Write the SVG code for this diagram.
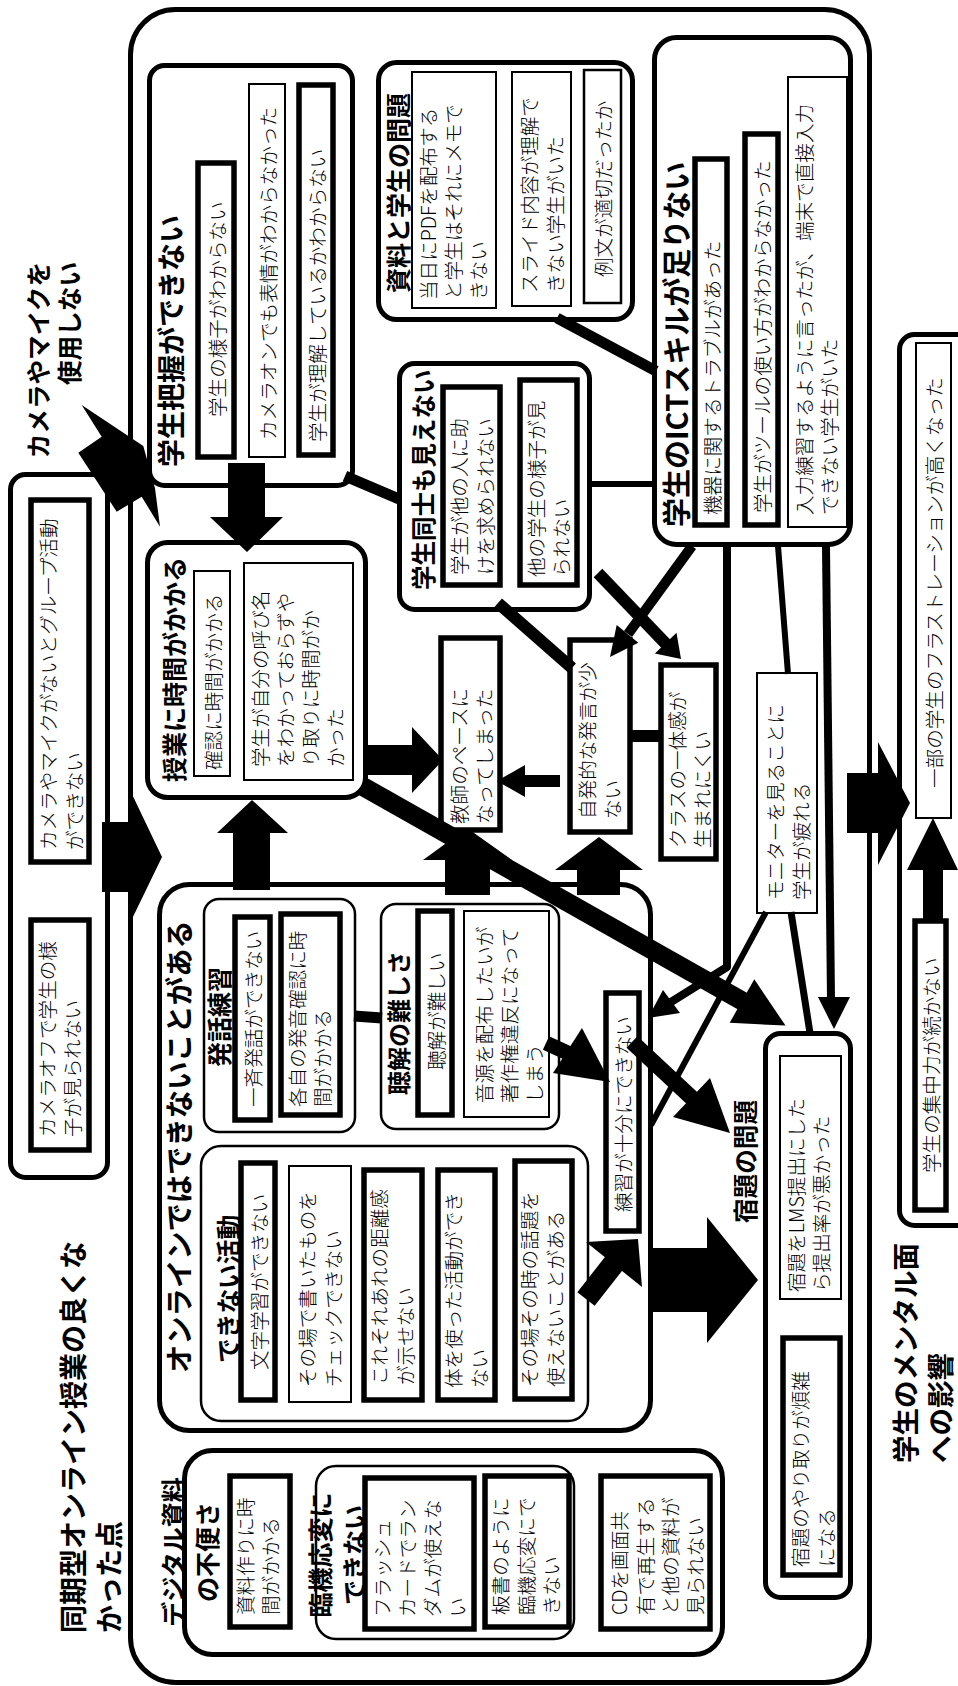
<svg xmlns="http://www.w3.org/2000/svg" width="958" height="1686" viewBox="0 0 958 1686">
<style>
text{font-family:"Noto Sans CJK JP","Noto Sans",sans-serif;dominant-baseline:central;fill:#000}
.n{font-size:19.6px;font-weight:300}
.h{font-weight:700}
.g5{fill:#fff;stroke:#000;stroke-width:5}
.g2{fill:#fff;stroke:#000;stroke-width:2.5}
.b5{fill:#fff;stroke:#000;stroke-width:5.5}
.b2{fill:#fff;stroke:#000;stroke-width:2}
.ln{fill:none;stroke:#000;stroke-linecap:butt}
.ar{fill:#000;stroke:none}
</style>
<rect x="0" y="0" width="958" height="1686" fill="#fff"/>

<g id="title"><text class="h" font-size="28" transform="translate(72,1633) rotate(-90)">同期型オンライン授業の良くな<tspan x="0" dy="36">かった点</tspan></text></g>
<g id="label-camera"><text class="h" font-size="24.6" text-anchor="end" transform="translate(37,262) rotate(-90)">カメラやマイクを<tspan x="0" dy="31">使用しない</tspan></text></g>
<g id="label-mental"><text class="h" font-size="27.5" transform="translate(904,1463) rotate(-90)">学生のメンタル面<tspan x="0" dy="35">への影響</tspan></text></g>

<g id="outer"><rect class="g5" x="130.5" y="9.5" width="739" height="1673" rx="45"/></g>

<g id="mental">
<rect class="g5" x="899.5" y="334.5" width="120" height="891" rx="15"/>
<g id="frustration"><rect class="b2" x="916" y="343" width="35" height="475"/><text class="n" transform="translate(933.5,788) rotate(-90)">一部の学生のフラストレーションが高くなった</text></g>
<g id="concentration"><rect class="b5" x="915" y="921" width="31" height="289"/><text class="n" transform="translate(930.5,1173) rotate(-90)">学生の集中力が続かない</text></g>
</g>

<g id="camera-group">
<rect class="g5" x="10.5" y="474.5" width="97" height="703" rx="15"/>
<g id="no-mic"><rect class="b5" x="31" y="500" width="58" height="362"/><text class="n" transform="translate(47.5,850) rotate(-90)">カメラやマイクがないとグループ活動<tspan x="0" dy="25">ができない</tspan></text></g>
<g id="camera-off"><rect class="b5" x="31" y="920" width="58" height="230"/><text class="n" transform="translate(46,1137) rotate(-90)">カメラオフで学生の様<tspan x="0" dy="25">子が見られない</tspan></text></g>
</g>

<g id="grasp">
<rect class="g5" x="149.5" y="65.5" width="203" height="420" rx="15"/>
<text class="h" font-size="28" transform="translate(170,467) rotate(-90)">学生把握ができない</text>
<g id="grasp-1"><rect class="b5" x="198" y="163" width="36" height="294"/><text class="n" transform="translate(216,417) rotate(-90)">学生の様子がわからない</text></g>
<g id="grasp-2"><rect class="b2" x="249" y="84" width="36" height="373"/><text class="n" transform="translate(267,440) rotate(-90)">カメラオンでも表情がわからなかった</text></g>
<g id="grasp-3"><rect class="b5" x="299" y="85" width="34" height="370"/><text class="n" transform="translate(316,442) rotate(-90)">学生が理解しているかわからない</text></g>
</g>

<g id="material">
<rect class="g5" x="378.5" y="62.5" width="254" height="257" rx="18"/>
<text class="h" font-size="25" transform="translate(397,293) rotate(-90)">資料と学生の問題</text>
<g id="material-1"><rect class="b2" x="412" y="72" width="84" height="236"/><text class="n" transform="translate(427,300) rotate(-90)">当日にPDFを配布する<tspan x="0" dy="25">と学生はそれにメモで</tspan><tspan x="0" dy="25">きない</tspan></text></g>
<g id="material-2"><rect class="b2" x="512" y="72" width="59" height="234"/><text class="n" transform="translate(528.5,293) rotate(-90)">スライド内容が理解で<tspan x="0" dy="25">きない学生がいた</tspan></text></g>
<g id="material-3"><rect class="g2" x="584" y="70" width="37" height="233"/><text class="n" transform="translate(602.5,277) rotate(-90)">例文が適切だったか</text></g>
</g>

<g id="ict">
<rect class="g5" x="654.5" y="37.5" width="196" height="507" rx="22"/>
<text class="h" font-size="29" transform="translate(675,527) rotate(-90)">学生のICTスキルが足りない</text>
<g id="ict-1"><rect class="b5" x="695" y="159" width="32" height="366"/><text class="n" transform="translate(711,515) rotate(-90)">機器に関するトラブルがあった</text></g>
<g id="ict-2"><rect class="b5" x="745" y="134" width="33" height="391"/><text class="n" transform="translate(761.5,513) rotate(-90)">学生がツールの使い方がわからなかった</text></g>
<g id="ict-3"><rect class="b2" x="788" y="77" width="59" height="450"/><text class="n" transform="translate(803,515) rotate(-90)">入力練習するように言ったが、端末で直接入力<tspan x="0" dy="25">できない学生がいた</tspan></text></g>
</g>

<g id="peers">
<rect class="g5" x="399.5" y="363.5" width="190" height="246" rx="15"/>
<text class="h" font-size="24.5" transform="translate(422,590) rotate(-90)">学生同士も見えない</text>
<g id="peers-1"><rect class="b5" x="443" y="387" width="57" height="198"/><text class="n" transform="translate(458.5,575) rotate(-90)">学生が他の人に助<tspan x="0" dy="25">けを求められない</tspan></text></g>
<g id="peers-2"><rect class="b5" x="520" y="380" width="57" height="205"/><text class="n" transform="translate(535,577) rotate(-90)">他の学生の様子が見<tspan x="0" dy="25">られない</tspan></text></g>
</g>

<g id="time">
<rect class="g5" x="147.5" y="542.5" width="218" height="255" rx="20"/>
<text class="h" font-size="25" transform="translate(173,782) rotate(-90)">授業に時間がかかる</text>
<g id="time-1"><rect class="b2" x="194" y="571" width="36" height="205"/><text class="n" transform="translate(212,770) rotate(-90)">確認に時間がかかる</text></g>
<g id="time-2"><rect class="b2" x="244" y="563" width="109" height="217"/><text class="n" transform="translate(259,767) rotate(-90)">学生が自分の呼び名<tspan x="0" dy="25">をわかっておらずや</tspan><tspan x="0" dy="25">り取りに時間がか</tspan><tspan x="0" dy="25">かった</tspan></text></g>
</g>

<g id="teacher-pace"><rect class="b5" x="441" y="638" width="59" height="192"/><text class="n" transform="translate(458,824) rotate(-90)">教師のペースに<tspan x="0" dy="25">なってしまった</tspan></text></g>
<g id="few-remarks"><rect class="b5" x="570" y="640" width="60" height="192"/><text class="n" transform="translate(586,819) rotate(-90)">自発的な発言が少<tspan x="0" dy="25">ない</tspan></text></g>
<g id="unity"><rect class="b5" x="661" y="665" width="55" height="194"/><text class="n" transform="translate(676,848) rotate(-90)">クラスの一体感が<tspan x="0" dy="25">生まれにくい</tspan></text></g>
<g id="monitor"><rect class="b2" x="757" y="673" width="60" height="240"/><text class="n" transform="translate(774.5,900) rotate(-90)">モニターを見ることに<tspan x="0" dy="25">学生が疲れる</tspan></text></g>

<g id="online">
<rect class="g5" x="159.5" y="884.5" width="491" height="546" rx="30"/>
<text class="h" font-size="28.3" transform="translate(177,1373) rotate(-90)">オンラインではできないことがある</text>
<g id="speaking">
<rect class="g2" x="204" y="899" width="151" height="233" rx="15"/>
<text class="h" font-size="25" transform="translate(217.5,1067) rotate(-90)">発話練習</text>
<g id="speaking-1"><rect class="b5" x="235" y="917" width="35" height="203"/><text class="n" transform="translate(252.5,1107) rotate(-90)">一斉発話ができない</text></g>
<g id="speaking-2"><rect class="b5" x="281" y="914" width="59" height="201"/><text class="n" transform="translate(296,1107) rotate(-90)">各自の発音確認に時<tspan x="0" dy="25">間がかかる</tspan></text></g>
</g>
<g id="listening">
<rect class="g2" x="381" y="904" width="178" height="225" rx="15"/>
<text class="h" font-size="24" transform="translate(397.5,1095) rotate(-90)">聴解の難しさ</text>
<g id="listening-1"><rect class="b5" x="418" y="911" width="34" height="204"/><text class="n" transform="translate(435,1070) rotate(-90)">聴解が難しい</text></g>
<g id="listening-2"><rect class="b2" x="464" y="911" width="85" height="206"/><text class="n" transform="translate(483,1103) rotate(-90)">音源を配布したいが<tspan x="0" dy="25">著作権違反になって</tspan><tspan x="0" dy="25">しまう</tspan></text></g>
</g>
<g id="activities">
<rect class="g2" x="201" y="1146" width="387" height="275" rx="20"/>
<text class="h" font-size="24.7" transform="translate(227,1363) rotate(-90)">できない活動</text>
<g id="act-1"><rect class="b5" x="241" y="1163" width="34" height="237"/><text class="n" transform="translate(258,1370) rotate(-90)">文字学習ができない</text></g>
<g id="act-2"><rect class="b2" x="289" y="1166" width="62" height="236"/><text class="n" transform="translate(306.5,1387) rotate(-90)">その場で書いたものを<tspan x="0" dy="25">チェックできない</tspan></text></g>
<g id="act-3"><rect class="b5" x="364" y="1170" width="58" height="230"/><text class="n" transform="translate(378.5,1385) rotate(-90)">これそれあれの距離感<tspan x="0" dy="25">が示せない</tspan></text></g>
<g id="act-4"><rect class="b5" x="438" y="1170" width="57" height="230"/><text class="n" transform="translate(452.5,1388) rotate(-90)">体を使った活動ができ<tspan x="0" dy="25">ない</tspan></text></g>
<g id="act-5"><rect class="b5" x="515" y="1161" width="57" height="238"/><text class="n" transform="translate(528.5,1387) rotate(-90)">その場その時の話題を<tspan x="0" dy="25">使えないことがある</tspan></text></g>
</g>
</g>

<g id="practice"><rect class="b5" x="606" y="993" width="33" height="238"/><text class="n" transform="translate(622.5,1212) rotate(-90)">練習が十分にできない</text></g>

<g id="homework">
<rect class="g5" x="765.5" y="1033.5" width="85" height="564" rx="15"/>
<text class="h" font-size="24.6" transform="translate(743.5,1223) rotate(-90)">宿題の問題</text>
<g id="hw-1"><rect class="b2" x="780" y="1056" width="61" height="243"/><text class="n" transform="translate(795,1292) rotate(-90)">宿題をLMS提出にした<tspan x="0" dy="25">ら提出率が悪かった</tspan></text></g>
<g id="hw-2"><rect class="b5" x="783" y="1338" width="57" height="237"/><text class="n" transform="translate(799.5,1567) rotate(-90)">宿題のやり取りが煩雑<tspan x="0" dy="25">になる</tspan></text></g>
</g>

<g id="digital">
<rect class="g5" x="184.5" y="1450.5" width="538" height="204" rx="28"/>
<text class="h" font-size="25" text-anchor="middle" transform="translate(171.5,1552) rotate(-90)">デジタル資料<tspan x="0" dy="34">の不便さ</tspan></text>
<g id="dig-1"><rect class="b5" x="230" y="1476" width="60" height="151"/><text class="n" transform="translate(244,1615) rotate(-90)">資料作りに時<tspan x="0" dy="25">間がかかる</tspan></text></g>
<g id="improv">
<rect class="g2" x="316" y="1466" width="258" height="173" rx="20"/>
<text class="h" font-size="25" text-anchor="middle" transform="translate(319,1555) rotate(-90)">臨機応変に<tspan x="0" dy="34">できない</tspan></text>
<g id="improv-1"><rect class="b5" x="365" y="1478" width="109" height="151"/><text class="n" transform="translate(381,1617) rotate(-90)">フラッシュ<tspan x="0" dy="25">カードでラン</tspan><tspan x="0" dy="25">ダムが使えな</tspan><tspan x="0" dy="25">い</tspan></text></g>
<g id="improv-2"><rect class="b5" x="485" y="1476" width="84" height="151"/><text class="n" transform="translate(499.5,1615) rotate(-90)">板書のように<tspan x="0" dy="25">臨機応変にで</tspan><tspan x="0" dy="25">きない</tspan></text></g>
</g>
<g id="dig-3"><rect class="b5" x="601" y="1476" width="109" height="153"/><text class="n" transform="translate(618.5,1615) rotate(-90)">CDを画面共<tspan x="0" dy="25">有で再生する</tspan><tspan x="0" dy="25">と他の資料が</tspan><tspan x="0" dy="25">見られない</tspan></text></g>
</g>

<g id="connectors">
<polygon class="ar" points="81.7,405 143.3,446 155,488.3 160,526.7 141.7,496.7 116.7,511.7 78.3,452.7 101.7,436.7"/>
<polygon class="ar" points="102,822 130,822 130,790 162,857 130,923 130,892 102,892"/>
<polygon class="ar" points="228,463 265,463 265,517 283,517 247,552 210,517 228,517"/>
<polygon class="ar" points="233,890 270,890 270,833 288,833 252,800 217,833 233,833"/>
<polygon class="ar" points="366,745 412,745 412,727 443,760 412,793 412,775 366,775"/>
<line class="ln" x1="345" y1="476" x2="399" y2="499" stroke-width="11"/>
<line class="ln" x1="557" y1="318" x2="656" y2="371" stroke-width="11"/>
<line class="ln" x1="589" y1="484" x2="655" y2="484" stroke-width="6"/>
<line class="ln" x1="498" y1="603" x2="572" y2="668" stroke-width="12"/>
<line class="ln" x1="598" y1="573" x2="667" y2="645" stroke-width="12"/>
<polygon class="ar" points="681,659 654.9,653.6 676.5,632.8"/>
<line class="ln" x1="692" y1="546" x2="628" y2="634" stroke-width="10"/>
<polygon class="ar" points="610,657 616.7,625 638.3,642.7"/>
<polygon class="ar" points="560,775 525,775 525,765 497,781 525,797 525,787 560,787"/>
<line class="ln" x1="630" y1="736" x2="661" y2="736" stroke-width="12"/>
<line class="ln" x1="362" y1="786" x2="744" y2="1002" stroke-width="19"/>
<polygon class="ar" points="785.5,1025.6 729.7,1022.75 754.3,979.25"/>
<polygon class="ar" points="445,895 490,895 490,860 512,860 467,828 423,860 445,860"/>
<polygon class="ar" points="577,895 620,895 620,870 643,870 599,837 555,870 577,870"/>
<polyline class="ln" points="727,546 727,967 671,1002" stroke-width="8" stroke-linejoin="round"/>
<polygon class="ar" points="648,1018 663,990 680,1013"/>
<line class="ln" x1="826" y1="546" x2="831" y2="999" stroke-width="8"/>
<polygon class="ar" points="834,1029 818,997 850,997"/>
<line class="ln" x1="778" y1="546" x2="788" y2="674" stroke-width="6"/>
<line class="ln" x1="791" y1="912" x2="810" y2="1033" stroke-width="7"/>
<line class="ln" x1="766" y1="912" x2="651" y2="1125" stroke-width="6"/>
<polygon class="ar" points="847,773 878,773 878,742 910,803 878,865 878,833 847,833"/>
<polygon class="ar" points="923,919 943,919 943,870 958,870 933,818 907,870 923,870"/>
<line class="ln" x1="354" y1="1016" x2="382" y2="1018" stroke-width="11"/>
<line class="ln" x1="546" y1="1043" x2="570" y2="1054" stroke-width="15"/>
<polygon class="ar" points="610,1082 582,1028 553,1073"/>
<line class="ln" x1="632" y1="1042" x2="693" y2="1099" stroke-width="16"/>
<polygon class="ar" points="730,1133 710,1078 673,1117"/>
<line class="ln" x1="586" y1="1299" x2="615" y2="1262" stroke-width="22"/>
<polygon class="ar" points="638,1239 586,1242 642,1287"/>
<polygon class="ar" points="651,1248 707,1248 707,1217 758,1280 707,1343 707,1312 651,1312"/>
</g>
</svg>
